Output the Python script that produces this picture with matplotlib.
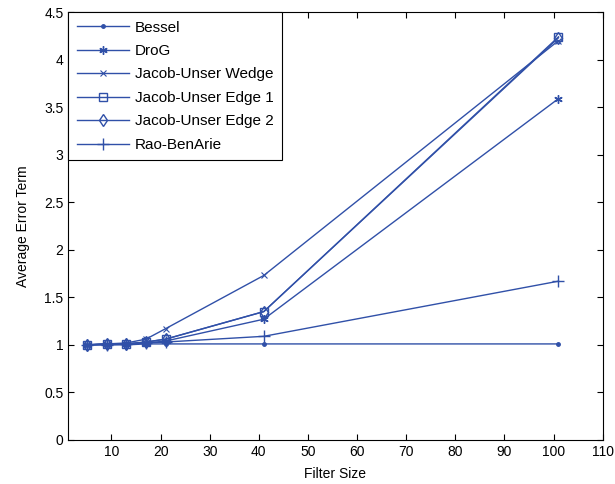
import matplotlib
matplotlib.use('Agg')
import matplotlib.pyplot as plt

plt.rcParams['font.family'] = ['Liberation Sans', 'DejaVu Sans']

filter_size = [5, 9, 13, 17, 21, 41, 101]

bessel = [1.00, 1.00, 1.00, 1.01, 1.01, 1.01, 1.01]
drog = [1.00, 1.01, 1.01, 1.02, 1.04, 1.27, 3.59]
ju_wedge = [1.00, 1.01, 1.02, 1.06, 1.17, 1.73, 4.20]
ju_edge1 = [1.00, 1.01, 1.01, 1.03, 1.06, 1.35, 4.24]
ju_edge2 = [1.00, 1.01, 1.01, 1.03, 1.06, 1.35, 4.23]
rao = [1.00, 1.00, 1.01, 1.02, 1.03, 1.09, 1.67]

col = '#3050a8'

fig = plt.figure(figsize=(6.15, 4.84), dpi=100)
ax = fig.add_axes([0.111, 0.091, 0.869, 0.884])

ax.plot(filter_size, bessel, color=col, lw=1, marker='.', ms=5, label='Bessel')
ax.plot(filter_size, drog, color=col, lw=1, marker=(6, 2, 0), ms=6, label='DroG')
ax.plot(filter_size, ju_wedge, color=col, lw=1, marker='x', ms=4.5, mew=0.8, label='Jacob-Unser Wedge')
ax.plot(filter_size, ju_edge1, color=col, lw=1, marker='s', ms=6, mfc='none', label='Jacob-Unser Edge 1')
ax.plot(filter_size, ju_edge2, color=col, lw=1, marker='d', ms=6, mfc='none', label='Jacob-Unser Edge 2')
ax.plot(filter_size, rao, color=col, lw=1, marker='+', ms=9, label='Rao-BenArie')

ax.set_xlim(1.2, 110)
ax.set_ylim(0, 4.5)
ax.set_xticks(range(10, 111, 10))
ax.set_yticks([0, 0.5, 1, 1.5, 2, 2.5, 3, 3.5, 4, 4.5])
ax.set_yticklabels(['0', '0.5', '1', '1.5', '2', '2.5', '3', '3.5', '4', '4.5'])
ax.tick_params(direction='in', top=True, right=True, labelsize=10, length=4)
ax.set_xlabel('Filter Size', fontsize=10, labelpad=6)
ax.set_ylabel('Average Error Term', fontsize=10, labelpad=10)

leg = ax.legend(loc='upper left', fontsize=11, fancybox=False, edgecolor='black',
                framealpha=1, borderaxespad=0.0, handlelength=3.4, labelspacing=0.62,
                borderpad=0.55, handletextpad=0.4)
leg.get_frame().set_linewidth(0.8)

plt.savefig('out.png', dpi=100)
